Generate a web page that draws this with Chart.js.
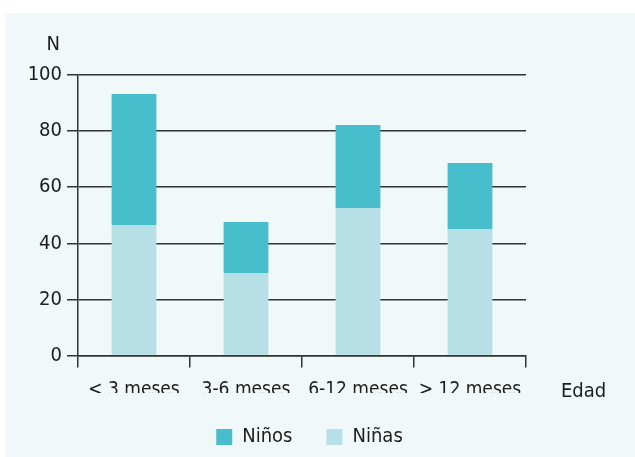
<!DOCTYPE html>
<html lang="es">
<head>
<meta charset="utf-8">
<title>N por edad</title>
<script src="https://cdn.jsdelivr.net/npm/chart.js@4.4.0/dist/chart.umd.min.js"></script>
<style>
  html, body { margin: 0; padding: 0; background: #ffffff; overflow: hidden; }
  #panel { position: absolute; left: 5px; top: 13px; width: 630px; height: 444px; background: #f0f8fa; }
  canvas { display: block; }
</style>
</head>
<body>
<div id="panel"><canvas id="edadChart" width="630" height="444"></canvas></div>
<script>
// data
const categories = ['< 3 meses', '3-6 meses', '6-12 meses', '> 12 meses'];
const ninas = [46.5, 29.4, 52.6, 45.1];
const ninos = [46.7, 18.2, 29.6, 23.5];
const yTicks = [0, 20, 40, 60, 80, 100];
const yAxisName = 'N';
const xAxisName = 'Edad';

const FONT = "'Liberation Sans Narrow', 'DejaVu Sans Condensed', 'Roboto', sans-serif";
const TEXT = '#1d1d1b';
const LINE = '#333333';

// axis names sit outside the usual title slots, so draw them by hand
const axisNames = {
  id: 'axisNames',
  afterDraw(chart) {
    const { ctx, chartArea } = chart;
    ctx.save();
    ctx.font = '20px ' + FONT;
    ctx.fillStyle = TEXT;
    ctx.textBaseline = 'alphabetic';
    ctx.textAlign = 'right';
    ctx.fillText(yAxisName, chartArea.left - 18, chartArea.top - 25);
    ctx.textAlign = 'left';
    ctx.fillText(xAxisName, chartArea.right + 35, chartArea.bottom + 41.5);
    ctx.restore();
  }
};

// legend is centred on the panel, not on the plot area
const legendShift = {
  id: 'legendShift',
  afterLayout(chart) {
    chart.legend.left += 44;
    chart.legend.right += 44;
  }
};

const ctx = document.getElementById('edadChart').getContext('2d');
new Chart(ctx, {
  type: 'bar',
  data: {
    labels: categories,
    datasets: [
      { label: 'Niñas', data: ninas, backgroundColor: '#b7e0e6', borderWidth: 0 },
      { label: 'Niños', data: ninos, backgroundColor: '#48bdcb', borderWidth: 0 }
    ]
  },
  options: {
    responsive: false,
    animation: false,
    datasets: { bar: { barPercentage: 0.8, categoryPercentage: 0.5 } },
    layout: { padding: { top: 62, left: 0, right: 109, bottom: 0 } },
    scales: {
      x: {
        stacked: true,
        afterFit: (scale) => { scale.height = 37.5; },
        grid: { drawOnChartArea: false, drawTicks: true, tickLength: 12, color: LINE, lineWidth: 1.5, offset: true },
        border: { display: true, color: LINE, width: 1.5 },
        ticks: { color: TEXT, font: { family: FONT, size: 19 }, padding: 11, maxRotation: 0, autoSkip: false }
      },
      y: {
        stacked: true,
        min: 0,
        max: 100,
        afterFit: (scale) => { scale.width = 73; },
        afterBuildTicks: (scale) => { scale.ticks = yTicks.map(v => ({ value: v })); },
        grid: { color: LINE, lineWidth: 1.5, drawTicks: true, tickLength: 11 },
        border: { display: true, color: LINE, width: 1.5 },
        ticks: { color: TEXT, font: { family: FONT, size: 20 }, padding: 5 }
      }
    },
    plugins: {
      tooltip: { enabled: false },
      legend: {
        position: 'bottom',
        reverse: true,
        labels: { color: TEXT, font: { family: FONT, size: 20 }, boxWidth: 16, boxHeight: 16, padding: 34 }
      }
    }
  },
  plugins: [axisNames, legendShift]
});
</script>
</body>
</html>
